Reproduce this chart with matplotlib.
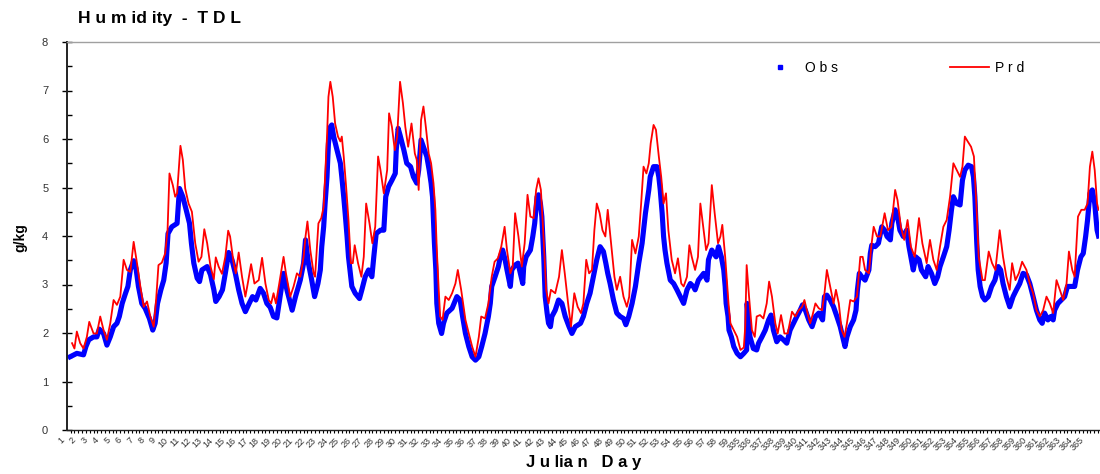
import matplotlib
matplotlib.use("Agg")
import matplotlib.pyplot as plt
from matplotlib.ticker import MultipleLocator, FixedLocator
from matplotlib.lines import Line2D
import matplotlib.transforms as mtransforms

plt.rcParams['font.family'] = ['Liberation Sans', 'DejaVu Sans']

# ---------------- data (hour index from start of day 1, g/kg) ----------------
day_labels = [str(d) for d in range(1, 60)] + [str(d) for d in range(335, 366)]

obs_hour = [15, 29, 43, 48, 54, 64, 71, 76, 85, 92, 99, 106, 113, 118, 124, 131, 136, 141, 148, 153,
            158, 165, 172, 181, 188, 193, 198, 205, 211, 216, 220, 228, 239, 244, 251, 258, 265, 269, 274, 281,
            286, 291, 302, 309, 316, 320, 327, 334, 340, 347, 354, 361, 368, 375, 382, 390, 397, 404, 413, 420,
            427, 434, 441, 448, 462, 469, 480, 487, 497, 504, 508, 514, 521, 527, 534, 539, 542, 546, 549, 553,
            556, 560, 563, 567, 574, 581, 584, 588, 591, 595, 598, 602, 605, 612, 621, 626, 633, 640, 647, 651,
            656, 665, 672, 674, 676, 682, 689, 696, 698, 702, 706, 714, 720, 728, 734, 741, 745, 750, 755, 762,
            767, 771, 774, 776, 778, 781, 783, 787, 793, 797, 804, 815, 825, 832, 837, 843, 850, 857, 864, 871,
            877, 884, 891, 895, 898, 905, 912, 916, 921, 926, 930, 937, 940, 947, 953, 958, 963, 965, 970, 979,
            984, 988, 993, 996, 1000, 1003, 1005, 1007, 1009, 1010, 1014, 1017, 1021, 1024, 1031, 1038, 1045, 1052, 1060, 1066,
            1073, 1084, 1090, 1097, 1104, 1111, 1118, 1125, 1132, 1137, 1141, 1146, 1153, 1160, 1167, 1174, 1179, 1185, 1192, 1199,
            1206, 1213, 1220, 1227, 1230, 1237, 1244, 1248, 1251, 1255, 1258, 1261, 1265, 1272, 1279, 1286, 1293, 1300, 1307, 1314,
            1321, 1324, 1331, 1342, 1349, 1352, 1359, 1368, 1373, 1379, 1384, 1387, 1389, 1393, 1395, 1400, 1405, 1412, 1419, 1426,
            1432, 1433, 1436, 1439, 1446, 1453, 1457, 1464, 1471, 1478, 1483, 1488, 1495, 1502, 1509, 1516, 1523, 1530, 1537, 1544,
            1549, 1555, 1562, 1569, 1576, 1583, 1591, 1595, 1600, 1607, 1614, 1621, 1628, 1633, 1638, 1642, 1649, 1656, 1661, 1664,
            1668, 1673, 1680, 1688, 1691, 1694, 1701, 1708, 1715, 1721, 1726, 1733, 1736, 1743, 1748, 1753, 1760, 1767, 1772, 1777,
            1781, 1786, 1793, 1798, 1807, 1812, 1819, 1826, 1832, 1837, 1844, 1851, 1856, 1861, 1865, 1872, 1879, 1884, 1889, 1896,
            1903, 1907, 1910, 1912, 1914, 1917, 1921, 1926, 1931, 1938, 1945, 1952, 1959, 1964, 1969, 1976, 1983, 1990, 1997, 2004,
            2011, 2018, 2025, 2032, 2039, 2046, 2051, 2056, 2063, 2069, 2074, 2077, 2084, 2091, 2098, 2104, 2112, 2119, 2125, 2132,
            2137, 2142, 2146, 2151, 2156, 2161, 2166, 2169]
obs_val = [1.51, 1.58, 1.55, 1.72, 1.86, 1.92, 1.92, 2.08, 1.99, 1.75, 1.92, 2.13, 2.20, 2.34, 2.61, 2.82, 2.96, 3.30, 3.49, 3.33,
           2.96, 2.61, 2.51, 2.30, 2.06, 2.20, 2.61, 2.89, 3.09, 3.44, 4.05, 4.19, 4.26, 4.98, 4.81, 4.54, 4.26, 3.85, 3.44, 3.13,
           3.06, 3.30, 3.37, 3.20, 2.89, 2.65, 2.75, 2.89, 3.23, 3.66, 3.51, 3.23, 2.89, 2.61, 2.44, 2.61, 2.75, 2.68, 2.92, 2.82,
           2.61, 2.53, 2.34, 2.31, 3.23, 2.89, 2.47, 2.75, 3.09, 3.44, 3.92, 3.44, 3.09, 2.75, 3.02, 3.30, 3.78, 4.19, 4.67, 5.22,
           5.91, 6.25, 6.29, 6.05, 5.77, 5.50, 5.22, 4.81, 4.47, 3.99, 3.57, 3.23, 2.96, 2.82, 2.71, 2.89, 3.16, 3.30, 3.16, 3.57,
           4.05, 4.12, 4.12, 4.47, 4.81, 5.02, 5.15, 5.29, 5.77, 6.22, 6.08, 5.77, 5.50, 5.43, 5.22, 5.09, 5.36, 5.98, 5.84, 5.64,
           5.36, 5.09, 4.81, 4.33, 3.85, 3.30, 2.61, 2.20, 1.99, 2.20, 2.41, 2.51, 2.75, 2.68, 2.34, 1.99, 1.72, 1.51, 1.44, 1.51,
           1.72, 1.99, 2.34, 2.61, 2.96, 3.16, 3.37, 3.57, 3.71, 3.51, 3.30, 2.96, 3.30, 3.40, 3.44, 3.23, 3.02, 3.37, 3.57, 3.71,
           3.99, 4.26, 4.81, 4.85, 4.67, 4.40, 3.99, 3.57, 3.02, 2.75, 2.41, 2.20, 2.13, 2.34, 2.47, 2.68, 2.61, 2.34, 2.13, 1.99,
           2.13, 2.20, 2.34, 2.61, 2.82, 3.16, 3.51, 3.78, 3.68, 3.44, 3.23, 3.02, 2.68, 2.41, 2.34, 2.30, 2.17, 2.34, 2.61, 2.96,
           3.44, 3.85, 4.47, 4.95, 5.22, 5.43, 5.43, 5.22, 4.95, 4.47, 3.99, 3.71, 3.44, 3.09, 3.02, 2.89, 2.75, 2.61, 2.89, 3.02,
           2.95, 2.89, 3.09, 3.23, 3.09, 3.51, 3.71, 3.57, 3.78, 3.57, 3.30, 2.96, 2.61, 2.34, 2.06, 1.92, 1.72, 1.58, 1.51, 1.58,
           1.65, 2.61, 2.20, 1.92, 1.68, 1.65, 1.79, 1.92, 2.06, 2.27, 2.37, 2.06, 1.82, 1.92, 1.86, 1.79, 2.06, 2.20, 2.34, 2.47,
           2.58, 2.47, 2.27, 2.13, 2.34, 2.41, 2.27, 2.75, 2.78, 2.68, 2.54, 2.34, 2.13, 1.92, 1.72, 1.92, 2.13, 2.27, 2.47, 2.89,
           3.23, 3.16, 3.09, 3.30, 3.64, 3.81, 3.78, 3.85, 4.19, 4.12, 3.99, 3.92, 4.26, 4.54, 4.40, 4.12, 3.99, 4.12, 3.78, 3.51,
           3.30, 3.57, 3.51, 3.30, 3.16, 3.37, 3.23, 3.02, 3.16, 3.37, 3.57, 3.78, 4.12, 4.54, 4.81, 4.67, 4.64, 5.15, 5.36, 5.46,
           5.43, 5.22, 4.81, 4.33, 3.85, 3.30, 2.96, 2.75, 2.68, 2.75, 2.96, 3.09, 3.37, 3.30, 3.02, 2.75, 2.54, 2.75, 2.89, 3.02,
           3.23, 3.20, 3.02, 2.75, 2.47, 2.27, 2.20, 2.41, 2.27, 2.34, 2.27, 2.47, 2.61, 2.68, 2.75, 2.96, 2.96, 2.96, 3.30, 3.57,
           3.64, 3.99, 4.33, 4.88, 4.95, 4.67, 4.12, 4.00]

prd_hour = [19, 24, 29, 36, 43, 50, 55, 64, 71, 78, 85, 92, 99, 106, 113, 120, 127, 134, 141, 148,
            155, 162, 169, 176, 183, 190, 195, 200, 207, 214, 219, 223, 230, 235, 239, 246, 251, 256, 263, 270,
            277, 284, 290, 296, 302, 309, 316, 320, 326, 333, 340, 346, 350, 357, 362, 368, 375, 382, 387, 394,
            401, 410, 417, 424, 431, 436, 441, 446, 453, 462, 467, 476, 483, 490, 497, 504, 508, 512, 518, 525,
            528, 535, 541, 546, 549, 553, 556, 560, 565, 570, 576, 581, 584, 588, 593, 598, 603, 607, 611, 618,
            625, 630, 635, 642, 648, 654, 660, 665, 672, 679, 683, 689, 695, 700, 706, 712, 717, 723, 730, 737,
            741, 745, 750, 755, 760, 766, 771, 776, 780, 783, 787, 790, 795, 801, 808, 815, 822, 827, 834, 843,
            850, 857, 864, 871, 876, 884, 891, 898, 904, 911, 918, 925, 930, 937, 942, 947, 954, 961, 967, 973,
            979, 986, 991, 996, 1001, 1005, 1009, 1012, 1017, 1022, 1031, 1039, 1045, 1051, 1058, 1064, 1071, 1078, 1085, 1090,
            1096, 1102, 1108, 1113, 1118, 1124, 1130, 1136, 1141, 1148, 1155, 1160, 1167, 1174, 1181, 1186, 1192, 1199, 1206, 1211,
            1216, 1222, 1227, 1231, 1237, 1242, 1248, 1253, 1258, 1263, 1268, 1275, 1282, 1288, 1295, 1300, 1307, 1312, 1317, 1324,
            1330, 1335, 1342, 1347, 1352, 1359, 1365, 1372, 1377, 1381, 1387, 1391, 1394, 1398, 1405, 1412, 1419, 1426, 1429, 1432,
            1437, 1443, 1449, 1453, 1460, 1467, 1474, 1479, 1485, 1492, 1497, 1504, 1511, 1518, 1527, 1534, 1541, 1548, 1553, 1558,
            1565, 1570, 1576, 1583, 1590, 1595, 1600, 1607, 1614, 1619, 1625, 1631, 1637, 1642, 1649, 1656, 1663, 1670, 1675, 1680,
            1688, 1693, 1698, 1705, 1712, 1721, 1728, 1735, 1743, 1748, 1755, 1762, 1769, 1776, 1784, 1793, 1800, 1809, 1816, 1823,
            1830, 1837, 1844, 1851, 1858, 1865, 1872, 1879, 1884, 1889, 1895, 1902, 1908, 1914, 1918, 1926, 1931, 1939, 1946, 1953,
            1962, 1969, 1976, 1983, 1988, 1995, 2002, 2009, 2018, 2025, 2032, 2039, 2046, 2053, 2060, 2067, 2074, 2081, 2088, 2095,
            2102, 2107, 2114, 2119, 2126, 2133, 2140, 2146, 2151, 2156, 2161, 2166, 2169]
prd_val = [1.79, 1.68, 2.03, 1.79, 1.68, 1.92, 2.23, 1.99, 1.99, 2.34, 2.06, 1.86, 2.20, 2.68, 2.58, 2.75, 3.51, 3.30, 3.26, 3.88,
           3.44, 2.96, 2.54, 2.65, 2.34, 2.13, 2.68, 3.40, 3.45, 3.64, 4.12, 5.29, 5.05, 4.81, 4.88, 5.86, 5.57, 4.98, 4.67, 4.50,
           3.85, 3.47, 3.57, 4.14, 3.85, 3.37, 3.11, 3.56, 3.37, 3.22, 3.57, 4.11, 3.99, 3.47, 3.23, 3.66, 3.16, 2.75, 3.02, 3.42,
           3.02, 3.09, 3.55, 3.02, 2.68, 2.61, 2.82, 2.61, 3.02, 3.57, 3.23, 2.75, 2.96, 3.23, 3.16, 3.57, 3.99, 4.30, 3.71, 3.23,
           3.16, 4.26, 4.37, 4.60, 5.22, 6.05, 6.87, 7.18, 6.87, 6.32, 6.05, 5.95, 6.05, 5.64, 5.02, 4.33, 3.44, 3.44, 3.81, 3.44,
           3.16, 3.57, 4.67, 4.26, 3.85, 4.19, 5.64, 5.36, 4.88, 5.36, 6.53, 6.25, 5.77, 6.05, 7.18, 6.74, 6.25, 5.84, 6.32, 5.70,
           5.57, 4.95, 6.39, 6.67, 6.25, 5.70, 5.50, 5.09, 4.54, 3.71, 2.89, 2.34, 2.27, 2.75, 2.68, 2.82, 3.02, 3.30, 2.89, 2.27,
           1.99, 1.72, 1.51, 1.92, 2.34, 2.30, 2.61, 3.16, 3.47, 3.54, 3.78, 4.19, 3.71, 3.23, 3.37, 4.47, 3.99, 3.37, 3.85, 4.85,
           4.40, 4.37, 4.95, 5.19, 4.95, 4.26, 3.51, 2.89, 2.61, 2.89, 2.82, 3.16, 3.71, 3.23, 2.61, 2.13, 2.82, 2.54, 2.41, 2.61,
           3.51, 3.23, 3.30, 4.12, 4.67, 4.47, 4.12, 3.99, 4.54, 3.85, 3.16, 2.89, 3.16, 2.75, 2.54, 2.75, 3.92, 3.64, 3.99, 4.67,
           5.43, 5.29, 5.50, 5.91, 6.29, 6.19, 5.64, 5.22, 4.67, 4.88, 4.12, 3.51, 3.23, 3.54, 3.02, 2.96, 3.16, 3.81, 3.57, 3.30,
           3.57, 4.67, 4.12, 3.71, 3.85, 5.05, 4.47, 3.85, 3.99, 4.23, 3.57, 3.02, 2.61, 2.20, 2.06, 1.92, 1.65, 1.70, 2.13, 3.40,
           2.75, 2.06, 1.92, 2.34, 2.37, 2.30, 2.61, 3.06, 2.75, 2.20, 1.99, 2.37, 1.99, 1.99, 2.44, 2.34, 2.47, 2.54, 2.68, 2.47,
           2.20, 2.37, 2.61, 2.51, 2.47, 2.82, 3.30, 2.96, 2.61, 2.89, 2.61, 2.06, 1.92, 2.20, 2.68, 2.65, 2.75, 3.57, 3.57, 3.30,
           3.23, 3.78, 4.19, 3.99, 3.99, 4.47, 4.12, 4.19, 4.95, 4.74, 4.19, 3.92, 4.33, 3.78, 3.57, 4.37, 3.85, 3.44, 3.92, 3.51,
           3.30, 3.78, 4.19, 4.33, 4.81, 5.50, 5.36, 5.22, 5.43, 6.05, 5.95, 5.84, 5.64, 4.47, 3.57, 3.09, 3.09, 3.68, 3.44, 3.30,
           4.12, 3.57, 3.16, 2.89, 3.44, 3.09, 3.23, 3.47, 3.30, 3.02, 2.82, 2.47, 2.34, 2.47, 2.75, 2.61, 2.41, 3.09, 2.89, 2.68,
           3.02, 3.68, 3.30, 3.16, 4.40, 4.54, 4.54, 4.67, 5.43, 5.74, 5.36, 4.67, 4.54]

label_hours = [24 * k + 16 for k in range(len(day_labels))]

# ---------------- figure ----------------
W, H = 1100, 474
fig = plt.figure(figsize=(W / 100, H / 100), dpi=100)
ax = fig.add_axes([67 / W, (H - 430) / H, (1099 - 67) / W, (430 - 42) / H])

ax.plot(obs_hour, obs_val, color='#0000ff', lw=3.7, solid_joinstyle='round', zorder=2)
ax.plot(prd_hour, prd_val, color='#ff0000', lw=1.3, zorder=3)

ax.set_xlim(8.4, 2170)
ax.set_ylim(0, 8)

# y axis
ax.yaxis.set_major_locator(MultipleLocator(1))
ax.yaxis.set_minor_locator(MultipleLocator(0.5))
ax.tick_params(axis='y', which='major', direction='inout', length=7, width=1, pad=10,
               labelsize=8, labelcolor='#333333')
ax.tick_params(axis='y', which='minor', direction='in', length=3.5, width=1)

# x axis
ax.xaxis.set_major_locator(FixedLocator(label_hours))
ax.xaxis.set_minor_locator(MultipleLocator(8))
ax.set_xticklabels(day_labels, rotation=45, ha='right', va='top', rotation_mode='anchor',
                   fontsize=6.5, color='#333333')
ax.tick_params(axis='x', which='both', direction='out', length=2.5, width=0.8, pad=1.5)
offset = mtransforms.ScaledTranslation(-16 * 0.4775 / 100 - 0.03, 0, fig.dpi_scale_trans)
for lbl in ax.get_xticklabels():
    lbl.set_transform(lbl.get_transform() + offset)

ax.spines['right'].set_visible(False)
ax.spines['top'].set_color('#a0a0a0')
ax.spines['top'].set_linewidth(1.0)
ax.spines['left'].set_linewidth(1.4)
ax.spines['left'].set_color('#222222')
ax.spines['bottom'].set_linewidth(1.0)
ax.spines['bottom'].set_color('#222222')

# legend
handles = [Line2D([], [], color='#0000ff', marker='s', linestyle='none', markersize=3.2),
           Line2D([], [], color='#ff0000', lw=1.3)]
ax.legend(handles, ['O b s', 'P r d'], loc='center left', bbox_to_anchor=(0.672, 0.933),
          ncol=2, frameon=False, fontsize=10, handlelength=2.75, handletextpad=0.45,
          columnspacing=8.1, borderpad=0, borderaxespad=0)

# titles
fig.text(78 / W, 1 - 18 / H, 'H u m id ity  -  T D L', ha='left', va='center',
         fontsize=12.5, fontweight='bold')
fig.text(584 / W, 1 - 462 / H, 'J u lia n   D a y', ha='center', va='center',
         fontsize=12, fontweight='bold')
fig.text(20 / W, 1 - 238 / H, 'g/kg', ha='center', va='center', rotation=90,
         fontsize=10, fontweight='bold')

fig.savefig('out.png', dpi=100)
